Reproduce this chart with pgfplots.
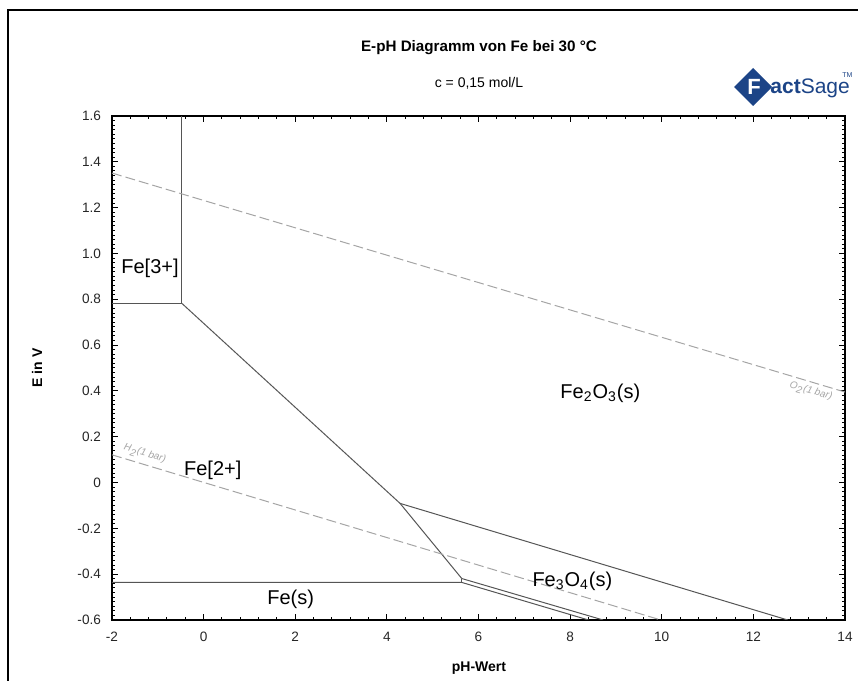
\documentclass[border=0pt]{standalone}
\usepackage{pgfplots}
\pgfplotsset{compat=1.18}
\usepackage{fontspec}
\setmainfont{Liberation Sans}
\definecolor{bnd}{RGB}{85,85,85}
\definecolor{gasc}{RGB}{165,165,165}
\definecolor{fsblue}{RGB}{28,68,135}
\begin{document}
\begin{tikzpicture}
\useasboundingbox (0pt,0pt) rectangle (429pt,340.5pt);
\draw[line width=1pt] (4pt,0pt) -- (4pt,335.5pt) -- (429pt,335.5pt);
\begin{axis}[at={(56pt,30.5pt)}, anchor=south west, scale only axis,
  width=366.5pt, height=252pt,
  xmin=-2, xmax=14, ymin=-0.6, ymax=1.6,
  xtick={-2,0,2,4,6,8,10,12,14},
  xticklabels={-2,0,2,4,6,8,10,12,14},
  ytick={-0.6,-0.4,-0.2,0,0.2,0.4,0.6,0.8,1.0,1.2,1.4,1.6},
  yticklabels={-0.6,-0.4,-0.2,0,0.2,0.4,0.6,0.8,1.0,1.2,1.4,1.6},
  minor x tick num=4, minor y tick num=9,
  tick align=inside, major tick length=3pt, minor tick length=1.6pt,
  tick style={black, line width=0.5pt},
  axis line style={line width=0.8pt},
  tick label style={font=\fontsize{6.8}{8}\selectfont, text=black!85},
  xticklabel style={yshift=-2.5pt},
  yticklabel style={xshift=-2pt},
]
% boundaries
\addplot[bnd, line width=0.5pt] coordinates {(-2,0.783) (-0.48,0.783) (-0.48,1.6)};
\addplot[bnd, line width=0.5pt] coordinates {(-0.48,0.783) (4.288,-0.091) (5.635,-0.419) (8.72,-0.6)};
\addplot[bnd, line width=0.5pt] coordinates {(-2,-0.436) (5.635,-0.436) (8.40,-0.6)};
\addplot[bnd, line width=0.5pt] coordinates {(5.635,-0.419) (5.635,-0.436)};
\addplot[bnd, line width=0.5pt] coordinates {(4.288,-0.091) (12.75,-0.6)};
% water lines
\addplot[gasc, line width=0.5pt, dash pattern=on 5pt off 2pt] coordinates {(-2,0.121) (9.98,-0.6)};
\addplot[gasc, line width=0.5pt, dash pattern=on 5pt off 2pt] coordinates {(-2,1.351) (14,0.395)};
% labels
\node[font=\fontsize{10}{12}\selectfont] at (axis cs:-1.17,0.935) {Fe[3+]};
\node[font=\fontsize{10}{12}\selectfont] at (axis cs:0.2,0.055) {Fe[2+]};
\node[font=\fontsize{10}{12}\selectfont] at (axis cs:8.66,0.39) {Fe\textsubscript{2}O\textsubscript{3}(s)};
\node[font=\fontsize{10}{12}\selectfont] at (axis cs:8.05,-0.43) {Fe\textsubscript{3}O\textsubscript{4}(s)};
\node[font=\fontsize{10}{12}\selectfont] at (axis cs:1.9,-0.51) {Fe(s)};
\node[font=\fontsize{5}{6}\itshape, text=gasc, rotate=-16.7, anchor=south, inner sep=0.5pt] at (axis cs:-1.33,0.095) {H\textsubscript{2}(1 bar)};
\node[font=\fontsize{5}{6}\itshape, text=gasc, rotate=-16.4, anchor=north, inner sep=1pt] at (axis cs:13.3,0.43) {O\textsubscript{2}(1 bar)};
\end{axis}
% titles
\node[font=\bfseries\fontsize{7.6}{9}\selectfont] at (239.5pt,316.5pt) {E-pH Diagramm von Fe bei 30 °C};
\node[font=\fontsize{7}{9}\selectfont] at (239.5pt,299pt) {c = 0,15 mol/L};
\node[font=\bfseries\fontsize{7}{9}\selectfont, rotate=90] at (18.5pt,156.5pt) {E in V};
\node[font=\bfseries\fontsize{7}{9}\selectfont] at (239.5pt,6.5pt) {pH-Wert};
% logo
\fill[fsblue] (367pt,297pt) -- (376.5pt,306.5pt) -- (386pt,297pt) -- (376.5pt,287.5pt) -- cycle;
\node[text=white, font=\bfseries\fontsize{11}{12}\selectfont, inner sep=0pt] at (377pt,297pt) {F};
\node[text=fsblue, anchor=west, inner sep=0pt, font=\fontsize{10.5}{12}\selectfont] at (385pt,296.5pt) {\textbf{act}Sage};
\node[text=fsblue, anchor=west, inner sep=0pt, font=\fontsize{3.5}{4}\selectfont] at (421pt,303pt) {TM};
\end{tikzpicture}
\end{document}
